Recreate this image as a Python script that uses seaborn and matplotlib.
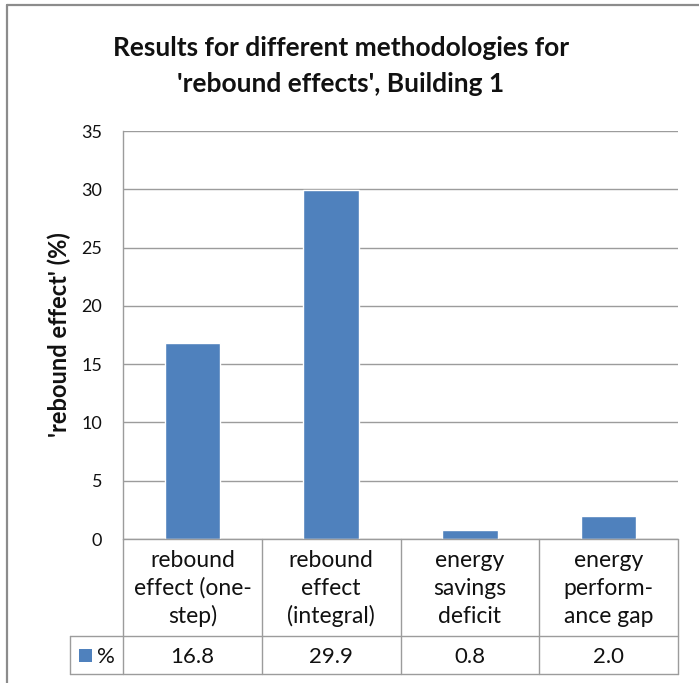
import matplotlib
matplotlib.use("Agg")
import matplotlib.pyplot as plt
import matplotlib.transforms as mtransforms
from matplotlib.lines import Line2D
from matplotlib.patches import Rectangle
import seaborn as sns
import pandas as pd

# ---- data ----
categories = ["rebound\neffect (one-\nstep)",
              "rebound\neffect\n(integral)",
              "energy\nsavings\ndeficit",
              "energy\nperform-\nance gap"]
values = [16.8, 29.9, 0.8, 2.0]
series_name = "%"
title_lines = ["Results for different methodologies for",
               "'rebound effects', Building 1"]
ylabel = "'rebound effect' (%)"
yticks = [0, 5, 10, 15, 20, 25, 30, 35]

df = pd.DataFrame({"method": categories, "value": values})

# ---- style ----
sns.set_theme(style="white")
plt.rcParams["font.family"] = ["Lato", "DejaVu Sans"]

BAR = "#4F81BD"
LINE = "#9c9c9c"
TXT = "#111111"
W, H = 699, 683

fig = plt.figure(figsize=(W / 100, H / 100), dpi=100)
fig.patch.set_facecolor("white")

# plot area in pixels: left, right, top, bottom
PL, PR, PT, PB = 123, 678, 131, 539
ax = fig.add_axes([PL / W, 1 - PB / H, (PR - PL) / W, (PB - PT) / H])

sns.barplot(data=df, x="method", y="value", color=BAR, saturation=1,
            width=0.4, ax=ax, errorbar=None)

ax.set_xlim(-0.5, len(categories) - 0.5)
ax.set_ylim(0, 35)
ax.set_yticks(yticks)
ax.set_yticklabels([str(t) for t in yticks], fontsize=13, color=TXT)
ax.tick_params(axis="y", length=0, pad=15)
ax.set_xticks([])
ax.set_xlabel("")
ax.set_ylabel(ylabel, fontsize=17, fontweight="bold", labelpad=7, color=TXT)
ax.yaxis.grid(True, color=LINE, linewidth=1.0)
ax.set_axisbelow(True)
for side in ("top", "right", "bottom"):
    ax.spines[side].set_visible(False)
ax.spines["left"].set_color(LINE)
ax.spines["left"].set_linewidth(1.0)


def ay(py):
    """figure pixel row -> axes fraction"""
    return (PB - py) / (PB - PT)


def axx(px):
    return (px - PL) / (PR - PL)


blend = mtransforms.blended_transform_factory(ax.transData, ax.transAxes)

row1_bot = ay(636)
row2_bot = ay(674)
leg_left = axx(70)

# data table grid
lk = dict(color=LINE, linewidth=1.0, clip_on=False)
ax.add_line(Line2D([0, 1], [0, 0], transform=ax.transAxes, **lk))
ax.add_line(Line2D([leg_left, 1], [row1_bot, row1_bot], transform=ax.transAxes, **lk))
ax.add_line(Line2D([leg_left, 1], [row2_bot, row2_bot], transform=ax.transAxes, **lk))
ax.add_line(Line2D([leg_left, leg_left], [row1_bot, row2_bot], transform=ax.transAxes, **lk))
for i in range(len(categories) + 1):
    xb = i - 0.5
    ax.add_line(Line2D([xb, xb], [0, row2_bot], transform=blend, **lk))

# category labels and values
baselines = [567, 595, 623]
for i, (cat, v) in enumerate(zip(categories, values)):
    for j, part in enumerate(cat.split("\n")):
        ax.text(i, ay(baselines[j]), part, transform=blend, ha="center",
                va="baseline", fontsize=16.5, color=TXT, clip_on=False)
    ax.text(i, ay(663), f"{v:.1f}", transform=blend, ha="center",
            va="baseline", fontsize=16, color=TXT, clip_on=False)

# legend key in the data table
ax.add_patch(Rectangle((axx(79), ay(662)), axx(92) - axx(79), ay(649) - ay(662),
                       transform=ax.transAxes, facecolor=BAR, edgecolor="none",
                       clip_on=False))
ax.text(axx(106), ay(663), series_name, transform=ax.transAxes, ha="center",
        va="baseline", fontsize=16, color=TXT, clip_on=False)

# title
for txt, base in zip(title_lines, [56, 92]):
    fig.text(341 / W, 1 - base / H, txt, ha="center", va="baseline",
             fontsize=19, fontweight="bold", color=TXT)

# chart frame (top and left edges)
fig.add_artist(Line2D([7 / W, 1], [1 - 5 / H, 1 - 5 / H], transform=fig.transFigure,
                      color="#8c8c8c", linewidth=1.6))
fig.add_artist(Line2D([7 / W, 7 / W], [0, 1 - 5 / H], transform=fig.transFigure,
                      color="#8c8c8c", linewidth=1.6))

fig.savefig("out.png", dpi=100, facecolor="white")
